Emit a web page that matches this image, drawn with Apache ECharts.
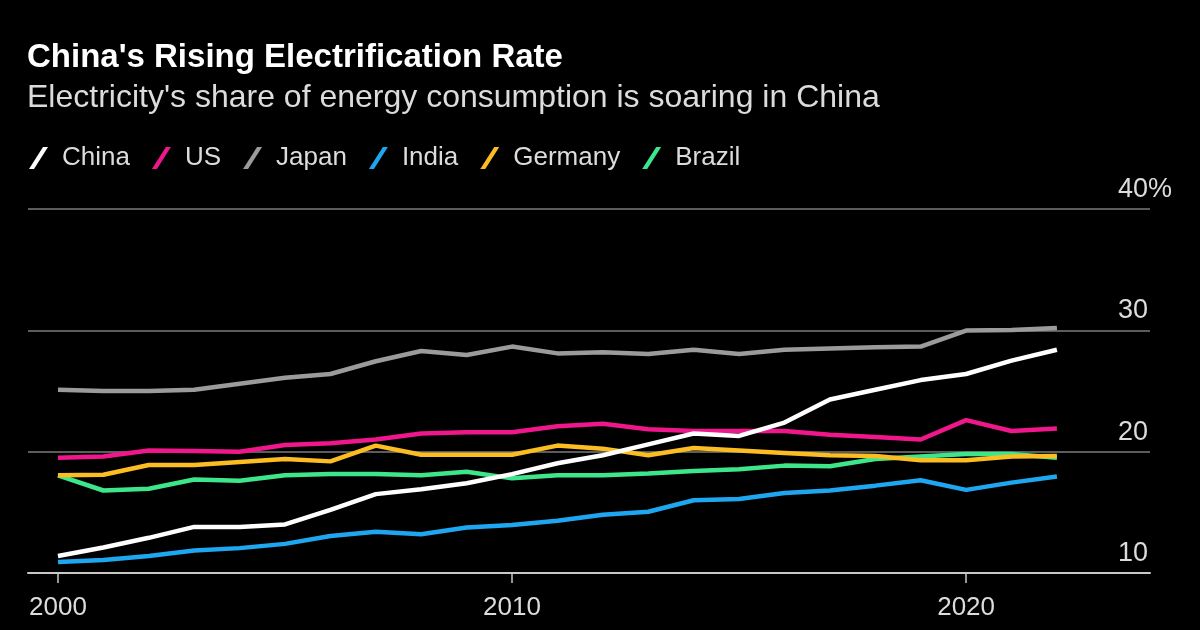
<!DOCTYPE html>
<html>
<head>
<meta charset="utf-8">
<script src="https://cdn.jsdelivr.net/npm/echarts@6/dist/echarts.min.js"></script>
<style>
  html, body { margin: 0; padding: 0; background: #000; }
  #chart { width: 1200px; height: 630px; }
</style>
</head>
<body>
<div id="chart"></div>
<script>
const years = [2000, 2001, 2002, 2003, 2004, 2005, 2006, 2007, 2008, 2009, 2010, 2011,
  2012, 2013, 2014, 2015, 2016, 2017, 2018, 2019, 2020, 2021, 2022]

const china = [11.4, 12.1, 12.9, 13.8, 13.8, 14.0, 15.2, 16.5, 16.9, 17.4, 18.15, 19.05,
  19.7, 20.6, 21.5, 21.3, 22.4, 24.3, 25.1, 25.9, 26.4, 27.5, 28.4]
const us = [19.5, 19.6, 20.1, 20.05, 20.0, 20.55, 20.7, 21.0, 21.5, 21.6, 21.6, 22.1,
  22.3, 21.85, 21.7, 21.7, 21.7, 21.4, 21.2, 21.0, 22.6, 21.7, 21.9]
const japan = [25.1, 25.0, 25.0, 25.1, 25.6, 26.1, 26.4, 27.45, 28.3, 27.97, 28.66, 28.1,
  28.2, 28.05, 28.4, 28.05, 28.4, 28.5, 28.6, 28.66, 29.98, 30.03, 30.2]
const india = [10.9, 11.07, 11.4, 11.85, 12.05, 12.4, 13.05, 13.4, 13.2, 13.75, 13.95, 14.3,
  14.8, 15.05, 16.0, 16.1, 16.6, 16.8, 17.2, 17.65, 16.85, 17.45, 17.95]
const germany = [18.05, 18.1, 18.9, 18.9, 19.15, 19.4, 19.2, 20.5, 19.75, 19.75, 19.75, 20.5,
  20.25, 19.7, 20.3, 20.1, 19.9, 19.7, 19.65, 19.3, 19.3, 19.6, 19.65]
const brazil = [18.05, 16.8, 16.95, 17.7, 17.6, 18.05, 18.15, 18.15, 18.05, 18.35, 17.8, 18.05,
  18.05, 18.2, 18.4, 18.55, 18.85, 18.8, 19.4, 19.6, 19.8, 19.8, 19.5]

const xTicks = [2000, 2010, 2020]

const countries = [
  { name: 'China', values: china, color: '#ffffff', z: 8 },
  { name: 'US', values: us, color: '#f0168c', z: 7 },
  { name: 'Japan', values: japan, color: '#9b9b9b', z: 6 },
  { name: 'India', values: india, color: '#1ea7f0', z: 5 },
  { name: 'Germany', values: germany, color: '#fbbd22', z: 4 },
  { name: 'Brazil', values: brazil, color: '#3ee68b', z: 3 },
]

const font = '"Liberation Sans", Arial, sans-serif'
// slanted stroke used as legend marker
const slash = 'path://M0,22 L14,0 L19,0 L5,22 Z'

const chart = echarts.init(document.getElementById('chart'))
chart.setOption({
  backgroundColor: '#000',
  animation: false,
  title: {
    text: "China's Rising Electrification Rate",
    subtext: "Electricity's share of energy consumption is soaring in China",
    left: 22,
    top: 36,
    itemGap: 8,
    textStyle: { color: '#fff', fontFamily: font, fontWeight: 'bold', fontSize: 33 },
    subtextStyle: { color: '#dcdcdc', fontFamily: font, fontSize: 32 },
  },
  legend: {
    left: 24,
    top: 140,
    itemWidth: 19,
    itemHeight: 22,
    itemGap: 22,
    data: countries.map(c => ({ name: c.name, icon: slash })),
    textStyle: { color: '#dcdcdc', fontFamily: font, fontSize: 26, padding: [0, 0, 0, 9] },
  },
  grid: { left: 28, right: 50, top: 209, bottom: 57 },
  xAxis: {
    type: 'value',
    min: 1999.34,
    max: 2024.05,
    splitLine: { show: false },
    axisLine: { lineStyle: { color: '#c8c8c8', width: 2 } },
    axisTick: { customValues: xTicks, length: 10, lineStyle: { color: '#c8c8c8', width: 1.5 } },
    axisLabel: {
      customValues: xTicks,
      color: '#dcdcdc', fontFamily: font, fontSize: 26, margin: 22,
      formatter: v => String(v),
    },
  },
  yAxis: {
    type: 'value',
    position: 'right',
    min: 10,
    max: 40,
    interval: 10,
    axisLine: { show: false },
    axisTick: { show: false },
    splitLine: { lineStyle: { color: '#5c5c5c', width: 2 } },
    axisLabel: {
      inside: true,
      align: 'left',
      verticalAlign: 'bottom',
      margin: 32,
      padding: [0, 0, 6, 0],
      color: '#dcdcdc', fontFamily: font, fontSize: 27,
      formatter: v => (v === 40 ? v + '%' : String(v)),
    },
  },
  series: countries.map(c => ({
    name: c.name,
    type: 'line',
    z: c.z,
    showSymbol: false,
    color: c.color,
    lineStyle: { width: 4.5, color: c.color },
    data: years.map((y, i) => [y, c.values[i]]),
  })),
})
</script>
</body>
</html>
